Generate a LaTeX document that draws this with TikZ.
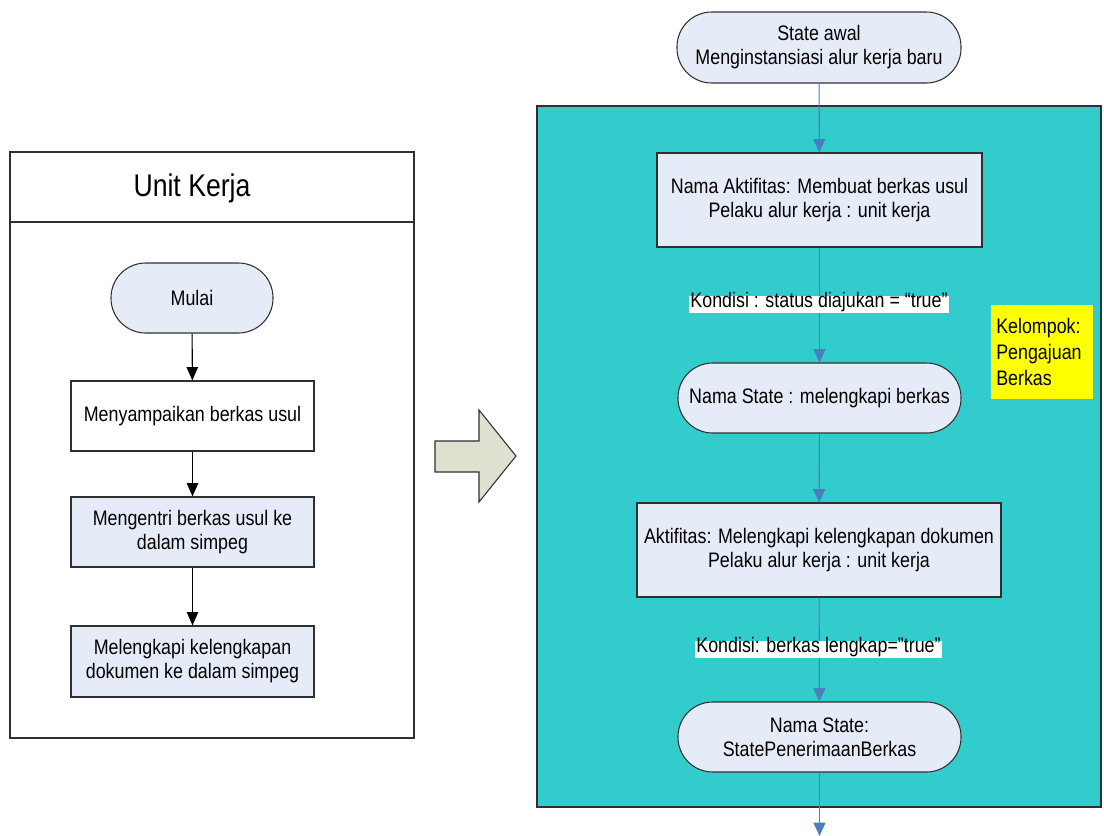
\documentclass[tikz,border=0pt]{standalone}
\usepackage{fontspec}
\setmainfont{Liberation Sans}[FakeStretch=0.85]
\usetikzlibrary{arrows.meta}

\definecolor{boxfill}{HTML}{E6ECF7}
\definecolor{poolteal}{HTML}{33CCCC}
\definecolor{flowblue}{HTML}{4A7EBF}
\definecolor{groupyellow}{HTML}{FFFF00}
\definecolor{bigarrow}{HTML}{DDE1CF}
\definecolor{edgegrey}{HTML}{303030}

\tikzset{
  every node/.style={font=\fontsize{15.75pt}{18pt}\selectfont, text=black},
  plainbox/.style={draw=edgegrey, line width=0.8pt, fill=white, align=center,
    inner sep=0pt, minimum width=243*0.75pt, minimum height=70*0.75pt},
  taskbox/.style={plainbox, fill=boxfill},
  statebox/.style={draw=edgegrey, line width=0.8pt, fill=boxfill, align=center,
    inner sep=0pt, rounded corners=26pt, minimum height=70*0.75pt},
  condlabel/.style={fill=white, inner xsep=1.2pt, inner ysep=1.6pt,
    text height=0.74em, text depth=0.22em},
  blackflow/.style={draw=black, line width=0.8pt,
    -{Triangle[width=8.5pt,length=10pt]}},
  blueflow/.style={draw=flowblue, line width=0.8pt,
    -{Triangle[width=9pt,length=10pt,fill=flowblue]}},
}

\begin{document}
\begin{tikzpicture}[x=0.75pt, y=-0.75pt]
\useasboundingbox (0,0) rectangle (1104,836);

% ---------- left swimlane: Unit Kerja ----------
\draw[draw=edgegrey, line width=0.8pt, fill=white] (10,152) rectangle (414,738);
\draw[draw=edgegrey, line width=0.8pt] (10,222) -- (414,222);
\node[font=\fontsize{23.5pt}{26pt}\selectfont] (lanetitle) at (192,188) {Unit Kerja};

\node[statebox, minimum width=162*0.75pt] (mulai) at (192,298) {Mulai};
\node[plainbox] (kirim) at (192.5,416) {Menyampaikan berkas usul};
\node[taskbox] (entri) at (192.5,532) {Mengentri berkas usul ke\\dalam simpeg};
\node[taskbox, minimum height=71*0.75pt] (lengkap) at (192.5,661.5)
  {Melengkapi kelengkapan\\dokumen ke dalam simpeg};

\draw[blackflow] (mulai) -- (kirim);
\draw[blackflow] (kirim) -- (entri);
\draw[blackflow] (entri) -- (lengkap);

% ---------- block arrow between the two parts ----------
\draw[draw=edgegrey, line width=0.8pt, fill=bigarrow]
  (435,441) -- (479,441) -- (479,410) -- (516,456) -- (479,502) -- (479,472)
  -- (435,472) -- cycle;

% ---------- right side: workflow states ----------
\draw[draw=edgegrey, line width=0.8pt, fill=poolteal] (537,106) rectangle (1101,807);

\node[statebox, minimum width=284*0.75pt, minimum height=71*0.75pt] (awal)
  at (819,47.5) {State awal\\Menginstansiasi alur kerja baru};

\node[taskbox, minimum width=325*0.75pt, minimum height=94*0.75pt] (buat)
  at (819.5,200) {Nama Aktifitas: Membuat berkas usul\\Pelaku alur kerja : unit kerja};

\node[statebox, minimum width=283*0.75pt] (melengkapi)
  at (819.5,398) {Nama State : melengkapi berkas};

\node[taskbox, minimum width=364*0.75pt, minimum height=94*0.75pt] (dokumen)
  at (819,550) {Aktifitas: Melengkapi kelengkapan dokumen\\Pelaku alur kerja : unit kerja};

\node[statebox, minimum width=283*0.75pt] (terima)
  at (819.5,737) {Nama State:\\StatePenerimaanBerkas};

\coordinate (keluar) at (819.5,836);

\node[fill=groupyellow, minimum width=102*0.75pt, minimum height=94*0.75pt,
  inner sep=0pt] (kelompok) at (1042,352) {};
\node[align=left, anchor=west, inner sep=0pt,
  font=\fontsize{15.75pt}{19.5pt}\selectfont] (kelompoktxt)
  at (996,352) {Kelompok:\\Pengajuan\\Berkas};

\draw[blueflow] (awal) -- (buat);
\draw[blueflow] (buat) -- (melengkapi);
\draw[blueflow] (melengkapi) -- (dokumen);
\draw[blueflow] (dokumen) -- (terima);
\draw[blueflow] (terima) -- (keluar);

\node[condlabel] (kond1) at (819,304.5) {Kondisi : status diajukan = “true”};
\node[condlabel] (kond2) at (818.5,649.5) {Kondisi: berkas lengkap=”true”};
\end{tikzpicture}
\end{document}
